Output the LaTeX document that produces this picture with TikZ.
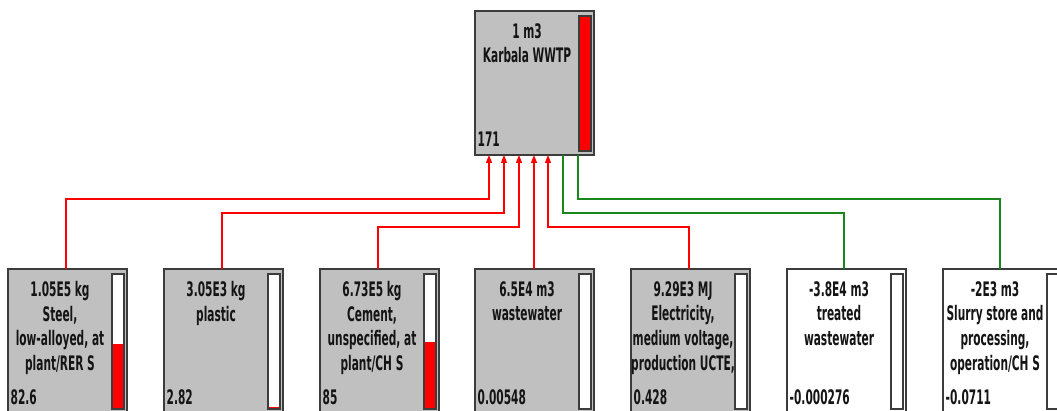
\documentclass[tikz,border=0pt]{standalone}
\usepackage{fontspec}
\setmainfont{DejaVu Sans}[FakeStretch=0.53]
\usetikzlibrary{arrows.meta,calc}
\definecolor{boxgray}{RGB}{192,192,192}
\definecolor{edgegray}{RGB}{60,60,60}
\definecolor{flowred}{RGB}{255,0,0}
\definecolor{flowgreen}{RGB}{25,135,25}
\definecolor{inktext}{RGB}{20,20,20}
\tikzset{
  procbox/.style={draw=edgegray, line width=1.6pt, fill=boxgray, minimum width=119pt,
    minimum height=144pt, anchor=north west, inner sep=0pt, outer sep=0pt},
  negbox/.style={procbox, fill=white},
  proctext/.style={anchor=north, align=center, inner sep=0pt, text=inktext,
    font=\fontsize{20}{24.7}\selectfont\bfseries},
  procval/.style={anchor=base west, inner sep=0pt, text=inktext,
    font=\fontsize{20}{24}\selectfont\bfseries},
  barframe/.style={draw=edgegray, line width=1.2pt},
  redflow/.style={draw=flowred, line width=1.3pt},
  greenflow/.style={draw=flowgreen, line width=1.3pt},
  flowtip/.style={-{Triangle[length=8pt,width=6pt]}}
}
% #1 node name, #2 bar height (full = 135pt)
\newcommand\procbar[2]{%
  \fill[white] ([xshift=104pt,yshift=-5pt]#1.north west) rectangle ([xshift=116pt,yshift=4pt]#1.south west);
  \fill[flowred] ([xshift=104pt,yshift=4pt]#1.south west) rectangle ([xshift=116pt,yshift={4pt+#2}]#1.south west);
  \draw[barframe] ([xshift=104pt,yshift=-5pt]#1.north west) rectangle ([xshift=116pt,yshift=4pt]#1.south west);
}
\newcommand\proclines[3]{%
  \node[proctext] (#1-t) at ([xshift=52pt,yshift=-12pt]#1.north west) {#2};
  \node[procval] (#1-v) at ([xshift=2.5pt,yshift=8pt]#1.south west) {#3};
}
\begin{document}
\begin{tikzpicture}[x=1pt,y=1pt]
\clip (0,0) rectangle (1057,411);
\fill[white] (0,0) rectangle (1057,411);

% boxes
\node[procbox] (top) at (475,400) {};
\node[procbox] (b1) at (8,142) {};
\node[procbox] (b2) at (164,142) {};
\node[procbox] (b3) at (320,142) {};
\node[procbox] (b4) at (475,142) {};
\node[procbox] (b5) at (631,142) {};
\node[negbox]  (b6) at (787,142) {};
\node[negbox]  (b7) at (943,142) {};

% connectors
\draw[redflow, flowtip] ([xshift=58pt]b1.north west) -- ++(0,70) -| ([xshift=14pt]top.south west);
\draw[redflow, flowtip] ([xshift=58pt]b2.north west) -- ++(0,56) -| ([xshift=29pt]top.south west);
\draw[redflow, flowtip] ([xshift=58pt]b3.north west) -- ++(0,42) -| ([xshift=44pt]top.south west);
\draw[redflow, flowtip] ([xshift=59pt]b4.north west) -- ([xshift=59pt]top.south west);
\draw[redflow, flowtip] ([xshift=58pt]b5.north west) -- ++(0,42) -| ([xshift=73pt]top.south west);
\draw[greenflow] ([xshift=57pt]b6.north west) -- ++(0,56) -| ([xshift=88pt]top.south west);
\draw[greenflow] ([xshift=57pt]b7.north west) -- ++(0,70) -| ([xshift=103pt]top.south west);

% bars
\procbar{top}{135pt}
\procbar{b1}{65.2pt}
\procbar{b2}{2.2pt}
\procbar{b3}{67.1pt}
\procbar{b4}{0pt}
\procbar{b5}{0.3pt}
\procbar{b6}{0pt}
\procbar{b7}{0pt}

% texts
\proclines{top}{1 m3\\Karbala WWTP}{171}
\proclines{b1}{1.05E5 kg\\Steel,\\low-alloyed, at\\plant/RER S}{82.6}
\proclines{b2}{3.05E3 kg\\plastic}{2.82}
\proclines{b3}{6.73E5 kg\\Cement,\\unspecified, at\\plant/CH S}{85}
\proclines{b4}{6.5E4 m3\\wastewater}{0.00548}
\proclines{b5}{9.29E3 MJ\\Electricity,\\medium voltage,\\production UCTE,}{0.428}
\proclines{b6}{-3.8E4 m3\\treated\\wastewater}{-0.000276}
\proclines{b7}{-2E3 m3\\Slurry store and\\processing,\\operation/CH S}{-0.0711}
\end{tikzpicture}
\end{document}
